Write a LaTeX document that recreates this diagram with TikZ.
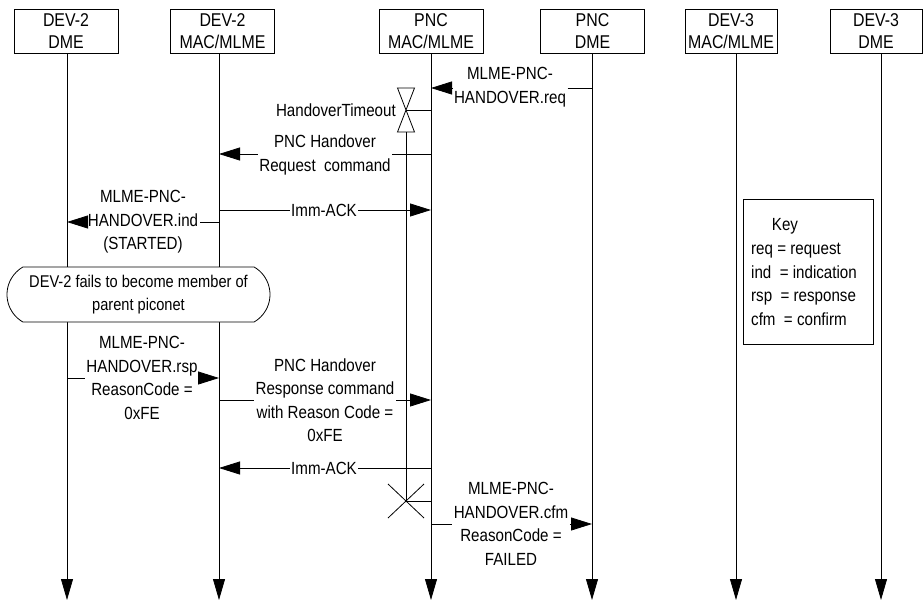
\documentclass[tikz,border=0pt]{standalone}
\usepackage{fontspec}
\setmainfont{Liberation Sans}[FakeStretch=0.86]
\usetikzlibrary{arrows.meta,shapes.misc}
\begin{document}
\begin{tikzpicture}[x=1pt,y=-1pt,
  every node/.style={font=\fontsize{17.6}{23.5}\selectfont},
  hdr/.style={draw,line width=0.8pt,minimum width=104pt,minimum height=44pt,inner sep=0pt,align=center,anchor=north,font=\fontsize{18.5}{22}\selectfont},
  life/.style={line width=0.8pt,-{Triangle[length=21pt,width=12pt]}},
  msg/.style={line width=0.8pt},
  arr/.style={line width=0.8pt,-{Triangle[length=21pt,width=13pt]}},
  lbl/.style={align=center,inner sep=1.5pt},
]
\useasboundingbox (0,0) rectangle (924,603);
% headers
\node[hdr] (h1) at (66,9) {DEV-2\\DME};
\node[hdr] (h2) at (222.5,9) {DEV-2\\MAC/MLME};
\node[hdr] (h3) at (431,9) {PNC\\MAC/MLME};
\node[hdr] (h4) at (592.5,9) {PNC\\DME};
\node[hdr,minimum width=92pt] (h5) at (731,9) {DEV-3\\MAC/MLME};
\node[hdr,minimum width=92pt] (h6) at (876,9) {DEV-3\\DME};
% lifeline bottoms
\coordinate (e1) at (67,600);
\coordinate (e2) at (219,600);
\coordinate (e3) at (431,600);
\coordinate (e4) at (592,600);
\coordinate (e5) at (736,600);
\coordinate (e6) at (881,600);
\draw[life] (e1 |- h1.south) -- (e1);
\draw[life] (e2 |- h2.south) -- (e2);
\draw[life] (e3 |- h3.south) -- (e3);
\draw[life] (e4 |- h4.south) -- (e4);
\draw[life] (e5 |- h5.south) -- (e5);
\draw[life] (e6 |- h6.south) -- (e6);

% timer
\coordinate (tc) at (406,110);
\coordinate (tx) at (406,501);
\draw[line width=0.8pt] (397.5,88) -- (414.5,88) -- (397.5,132) -- (414.5,132) -- cycle;
\draw[msg] (tc) -- (tc -| e3);
\node[anchor=east,inner sep=1pt] (tl) at (397,110) {HandoverTimeout};
\draw[msg] (406,132) -- (tx);
\draw[line width=0.8pt] (388,484) -- (424,518) (388,518) -- (424,484);
\draw[msg] (tx) -- (tx -| e3);

% m1 req
\node[lbl] (m1) at (510,87) {MLME-PNC-\\HANDOVER.req};
\draw[msg] (m1.east |- 0,88) -- (e4 |- 0,88);
\draw[arr] (m1.west |- 0,88) -- (e3 |- 0,88);
% m2
\node[lbl] (m2) at (325,155) {PNC Handover\\Request\ \ command};
\draw[msg] (e3 |- 0,154) -- (m2.east |- 0,154);
\draw[arr] (m2.west |- 0,154) -- (e2 |- 0,154);
% m3 imm-ack
\node[lbl] (m3) at (324,210) {Imm-ACK};
\draw[msg] (e2 |- m3) -- (m3.west);
\draw[arr] (m3.east) -- (e3 |- m3);
% m4 ind
\node[lbl] (m4) at (143,222) {MLME-PNC-\\HANDOVER.ind\\(STARTED)};
\draw[msg] (e2 |- m4) -- (m4.east);
\draw[arr] (m4.west) -- (e1 |- m4);
% box
\node[draw,line width=0.8pt,rounded rectangle,rounded rectangle arc length=120,minimum width=263pt,minimum height=55pt,align=center,inner sep=0pt,fill=white,font=\fontsize{17}{23.5}\selectfont] (fb) at (138.5,294.5) {DEV-2 fails to become member of\\parent piconet};
% m5 rsp
\node[lbl] (m5) at (142,378) {MLME-PNC-\\HANDOVER.rsp\\ReasonCode =\\0xFE};
\draw[msg] (e1 |- m5) -- (m5.west);
\draw[arr] (m5.east) -- (e2 |- m5);
% m6
\node[lbl] (m6) at (325,400) {PNC Handover\\Response command\\with Reason Code =\\0xFE};
\draw[msg] (e2 |- m6) -- (m6.west);
\draw[arr] (m6.east) -- (e3 |- m6);
% m7
\node[lbl] (m7) at (324,468) {Imm-ACK};
\draw[msg] (e3 |- m7) -- (m7.east);
\draw[arr] (m7.west) -- (e2 |- m7);
% m8 cfm
\node[lbl] (m8) at (511,524) {MLME-PNC-\\HANDOVER.cfm\\ReasonCode =\\FAILED};
\draw[msg] (e3 |- m8) -- (m8.west);
\draw[arr] (m8.east) -- (e4 |- m8);

% key
\node[draw,line width=0.8pt,minimum width=130pt,minimum height=145pt,anchor=north west] (key) at (743,199) {};
\node[anchor=base] (kt) at (785,230) {Key};
\node[anchor=north west,align=left,inner sep=0pt] (kb) at (751,243) {req = request\\ind\ \ = indication\\rsp\ \ = response\\cfm\ \ = confirm};
\end{tikzpicture}
\end{document}
